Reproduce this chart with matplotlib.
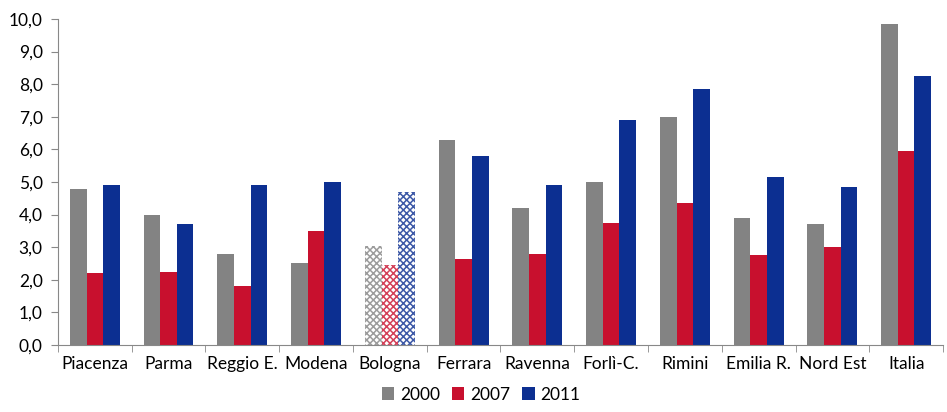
import matplotlib
matplotlib.use("Agg")
import matplotlib.pyplot as plt
import numpy as np
from matplotlib.patches import Patch

plt.rcParams['font.family'] = ['Lato', 'DejaVu Sans']
plt.rcParams['hatch.linewidth'] = 1.1

categories = ["Piacenza", "Parma", "Reggio E.", "Modena", "Bologna", "Ferrara",
              "Ravenna", "Forlì-C.", "Rimini", "Emilia R.", "Nord Est", "Italia"]
years = ["2000", "2007", "2011"]
v2000 = [4.8, 4.0, 2.8, 2.5, 3.05, 6.3, 4.2, 5.0, 7.0, 3.9, 3.7, 9.85]
v2007 = [2.2, 2.25, 1.8, 3.5, 2.45, 2.65, 2.8, 3.75, 4.35, 2.75, 3.0, 5.95]
v2011 = [4.9, 3.7, 4.9, 5.0, 4.7, 5.8, 4.9, 6.9, 7.85, 5.15, 4.85, 8.25]
hatched = "Bologna"

colors = ["#838383", "#c8102e", "#0c2f91"]
series = [v2000, v2007, v2011]

fig = plt.figure(figsize=(9.47, 4.12), dpi=100)
ax = fig.add_axes([0.0612, 0.1626, 0.9346, 0.7914])

x = np.arange(len(categories))
w = 0.225
for i, (vals, col) in enumerate(zip(series, colors)):
    offs = (i - 1) * w
    for j, v in enumerate(vals):
        if categories[j] == hatched:
            ax.bar(x[j] + offs, v, w, facecolor="white", edgecolor=col,
                   hatch="xxxxx", linewidth=0, alpha=0.8)
        else:
            ax.bar(x[j] + offs, v, w, color=col, linewidth=0)

fs = 12.5
ax.set_xlim(-0.5, len(categories) - 0.5)
ax.set_ylim(0, 10)
ax.set_yticks(np.arange(0, 10.01, 1.0))
ax.set_yticklabels([f"{t:.1f}".replace(".", ",") for t in np.arange(0, 10.01, 1.0)],
                   fontsize=fs)
ax.set_xticks(x)
ax.set_xticklabels(categories, fontsize=fs)
ax.set_xticks(np.arange(-0.5, len(categories)), minor=True)
ax.tick_params(axis="x", which="major", length=0, pad=8)
ax.tick_params(axis="x", which="minor", length=5, color="#888888")
ax.tick_params(axis="y", length=5, color="#888888", pad=6)

for s in ["top", "right"]:
    ax.spines[s].set_visible(False)
ax.spines["left"].set_color("#888888")
ax.spines["bottom"].set_color("#888888")

handles = [Patch(facecolor=c, edgecolor="none") for c in colors]
fig.legend(handles, years, loc="lower center", bbox_to_anchor=(0.508, -0.015),
           ncol=3, frameon=False, fontsize=fs, handlelength=0.7,
           handleheight=0.7, handletextpad=0.35, columnspacing=0.7)

fig.savefig("out.png", dpi=100)
